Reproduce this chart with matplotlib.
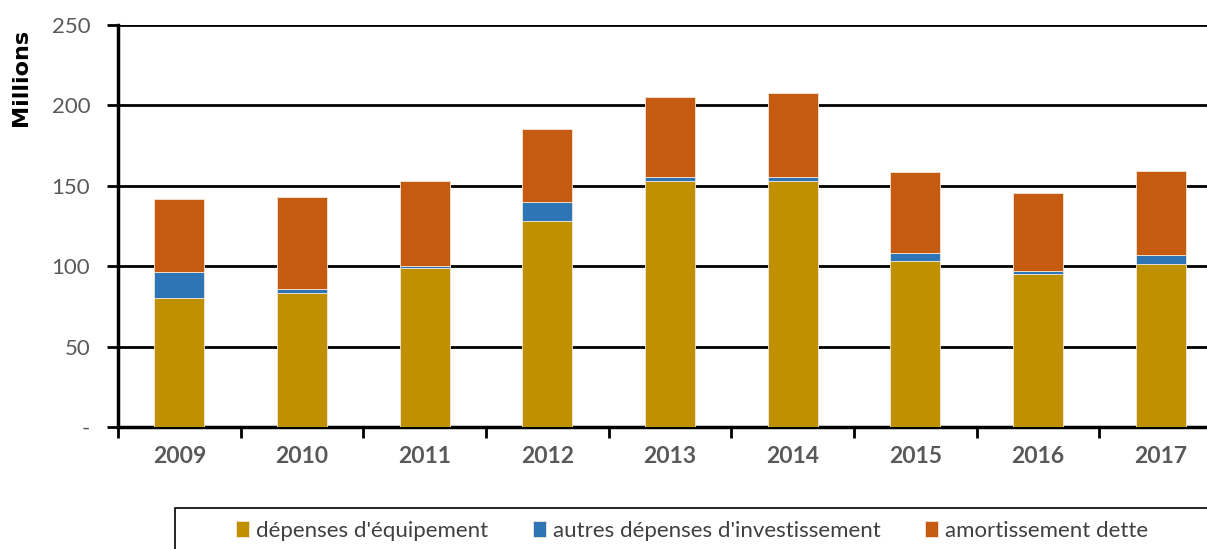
import matplotlib
matplotlib.use("Agg")
import matplotlib.pyplot as plt
from matplotlib.patches import Rectangle
import numpy as np

years = ["2009", "2010", "2011", "2012", "2013", "2014", "2015", "2016", "2017"]
equipement = [80.5, 83.4, 98.6, 128.0, 152.7, 152.7, 103.3, 95.4, 101.2]
autres = [15.8, 2.5, 1.6, 12.0, 2.5, 2.5, 4.8, 1.5, 5.5]
amortissement = [45.2, 57.2, 52.5, 45.3, 50.2, 52.3, 50.2, 48.7, 52.4]
labels = ["dépenses d'équipement", "autres dépenses d'investissement", "amortissement dette"]
colors = ["#BF9000", "#2E75B6", "#C55A11"]
yticks = [0, 50, 100, 150, 200, 250]
ytick_labels = ["-", "50", "100", "150", "200", "250"]

W, H = 1207, 549
fig = plt.figure(figsize=(W / 100, H / 100), dpi=100)
# the plot area runs past the right edge of the picture, as in the original
ax = fig.add_axes([118 / W, 1 - 427 / H, 1104 / W, 402 / H])

x = np.arange(len(years))
bottom = np.zeros(len(years))
handles = []
for vals, lab, col in zip([equipement, autres, amortissement], labels, colors):
    b = ax.bar(x, vals, 0.41, bottom=bottom, color=col, label=lab,
               edgecolor="#f3e6d8", linewidth=0.6, zorder=3)
    handles.append(b)
    bottom = bottom + np.array(vals)

ax.set_xlim(-0.5, len(years) - 0.5)
ax.set_ylim(0, 250)
ax.set_yticks(yticks)
ax.set_yticklabels(ytick_labels, fontsize=16, color="#595959", family=["Lato", "DejaVu Sans"])
ax.yaxis.grid(True, color="black", linewidth=2, zorder=0)
ax.set_axisbelow(True)

ax.set_xticks(x)
ax.set_xticklabels(years, fontsize=16.5, fontweight="bold", color="#595959", family=["Lato", "DejaVu Sans"])
ax.tick_params(axis="x", which="major", length=0, pad=14)
ax.set_xticks(np.arange(-0.5, len(years)), minor=True)
ax.tick_params(axis="x", which="minor", length=8, width=2, direction="out", color="black")
ax.tick_params(axis="y", length=8, width=2, direction="out", color="black", pad=12)

for s in ["top", "right"]:
    ax.spines[s].set_visible(False)
ax.spines["left"].set_linewidth(2.5)
ax.spines["bottom"].set_linewidth(2.5)

fig.text(21 / W, 1 - 77 / H, "Millions", rotation=90, ha="center", va="center",
         fontsize=16, fontweight="bold", family=["DejaVu Sans"])

# legend box (runs off the bottom and right of the picture)
fig.patches.append(Rectangle((175 / W, -0.1), 1040 / W, 0.1 + 1 - 508 / H,
                             transform=fig.transFigure, fill=False,
                             edgecolor="black", linewidth=1.2))
leg = fig.legend(handles=handles, labels=labels, loc="center",
                 bbox_to_anchor=(692 / W, 1 - 531 / H), ncol=3, frameon=False,
                 handlelength=0.6, handleheight=0.7, handletextpad=0.3,
                 columnspacing=2.0, borderpad=0, borderaxespad=0,
                 prop={"family": ["Lato", "DejaVu Sans"], "size": 16})
for t in leg.get_texts():
    t.set_color("#404040")

fig.savefig("out.png", dpi=100)
